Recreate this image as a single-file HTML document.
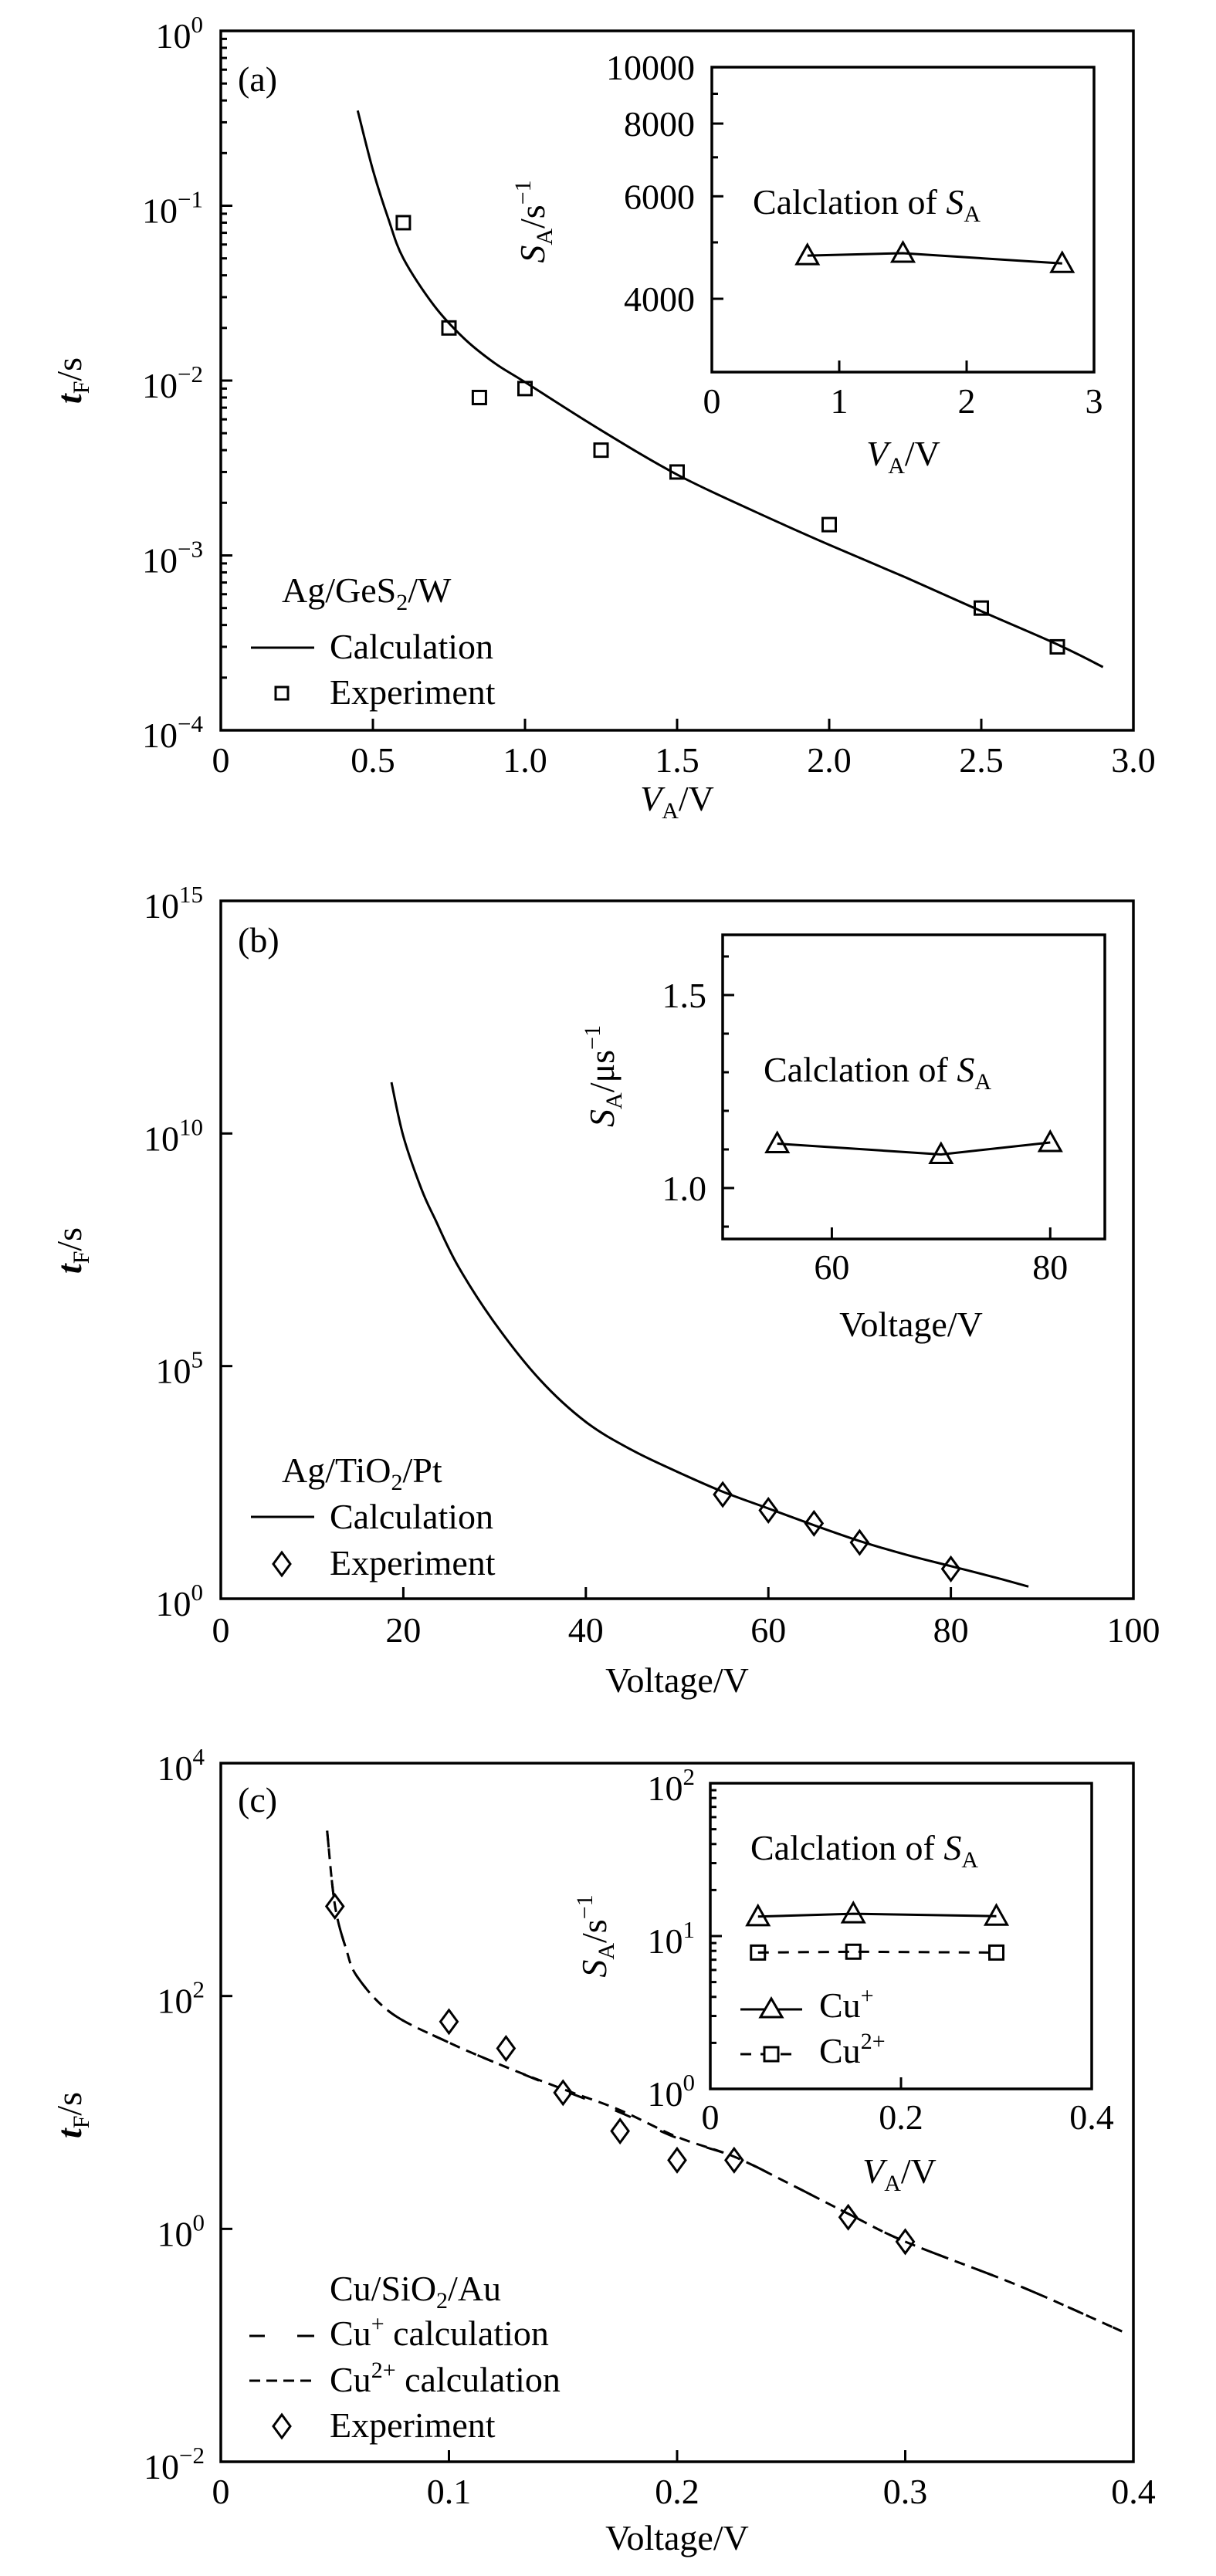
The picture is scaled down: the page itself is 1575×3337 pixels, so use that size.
<!DOCTYPE html>
<html><head><meta charset="utf-8"><style>
html,body{margin:0;padding:0;background:#fff}
svg{display:block}
text{font-family:"Liberation Serif",serif;fill:#000}
</style></head>
<body>
<svg id="fig" width="1575" height="3337" viewBox="0 0 1575 3337" xmlns="http://www.w3.org/2000/svg">
<rect x="0" y="0" width="1575" height="3337" fill="#fff"/>
<g font-size="46">
<text x="308" y="118">(a)</text>
<text transform="translate(105,493) rotate(-90)" text-anchor="middle"><tspan font-style="italic" font-weight="bold">t</tspan><tspan font-size="30" dy="10">F</tspan><tspan dy="-10">/s</tspan></text>
<text x="877" y="1050" text-anchor="middle"><tspan font-style="italic">V</tspan><tspan font-size="30" dy="10">A</tspan><tspan dy="-10">/V</tspan></text>
<text x="365" y="780">Ag/GeS<tspan font-size="30" dy="10">2</tspan><tspan dy="-10">/W</tspan></text>
<line x1="325" y1="839" x2="407" y2="839" stroke="#000" stroke-width="3"/>
<text x="427" y="853">Calculation</text>
<rect x="357" y="890" width="16" height="16" fill="none" stroke="#000" stroke-width="3"/>
<text x="427" y="912">Experiment</text>
<text x="975" y="277">Calclation of <tspan font-style="italic">S</tspan><tspan font-size="30" dy="10">A</tspan></text>
<text transform="translate(705,287) rotate(-90)" text-anchor="middle"><tspan font-style="italic">S</tspan><tspan font-size="30" dy="10">A</tspan><tspan dy="-10">/s</tspan><tspan font-size="30" dy="-18">−1</tspan></text>
<text x="1170" y="603" text-anchor="middle"><tspan font-style="italic">V</tspan><tspan font-size="30" dy="10">A</tspan><tspan dy="-10">/V</tspan></text>
</g>
<g font-size="46">
<text x="308" y="1233">(b)</text>
<text transform="translate(105,1620) rotate(-90)" text-anchor="middle"><tspan font-style="italic" font-weight="bold">t</tspan><tspan font-size="30" dy="10">F</tspan><tspan dy="-10">/s</tspan></text>
<text x="877" y="2192" text-anchor="middle">Voltage/V</text>
<text x="365" y="1920">Ag/TiO<tspan font-size="30" dy="10">2</tspan><tspan dy="-10">/Pt</tspan></text>
<line x1="325" y1="1965" x2="407" y2="1965" stroke="#000" stroke-width="3"/>
<text x="427" y="1980">Calculation</text>
<path d="M365,2011 L376,2026 L365,2041 L354,2026 Z" fill="none" stroke="#000" stroke-width="3"/>
<text x="427" y="2040">Experiment</text>
<text x="989" y="1401">Calclation of <tspan font-style="italic">S</tspan><tspan font-size="30" dy="10">A</tspan></text>
<text transform="translate(795,1394) rotate(-90)" text-anchor="middle"><tspan font-style="italic">S</tspan><tspan font-size="30" dy="10">A</tspan><tspan dy="-10">/μs</tspan><tspan font-size="30" dy="-18">−1</tspan></text>
<text x="1180" y="1731" text-anchor="middle">Voltage/V</text>
</g>
<g font-size="46">
<text x="308" y="2347">(c)</text>
<text transform="translate(105,2740) rotate(-90)" text-anchor="middle"><tspan font-style="italic" font-weight="bold">t</tspan><tspan font-size="30" dy="10">F</tspan><tspan dy="-10">/s</tspan></text>
<text x="877" y="3303" text-anchor="middle">Voltage/V</text>
<text x="427" y="2980">Cu/SiO<tspan font-size="30" dy="10">2</tspan><tspan dy="-10">/Au</tspan></text>
<line x1="323" y1="3026" x2="407" y2="3026" stroke="#000" stroke-width="3" stroke-dasharray="20 42 22"/>
<text x="427" y="3038">Cu<tspan font-size="30" dy="-18">+</tspan><tspan dy="18"> calculation</tspan></text>
<line x1="323" y1="3084" x2="407" y2="3084" stroke="#000" stroke-width="3" stroke-dasharray="14 8"/>
<text x="427" y="3098">Cu<tspan font-size="30" dy="-18">2+</tspan><tspan dy="18"> calculation</tspan></text>
<path d="M365,3128 L376,3143 L365,3158 L354,3143 Z" fill="none" stroke="#000" stroke-width="3"/>
<text x="427" y="3157">Experiment</text>
<text x="972" y="2409">Calclation of <tspan font-style="italic">S</tspan><tspan font-size="30" dy="10">A</tspan></text>
<text transform="translate(785,2508) rotate(-90)" text-anchor="middle"><tspan font-style="italic">S</tspan><tspan font-size="30" dy="10">A</tspan><tspan dy="-10">/s</tspan><tspan font-size="30" dy="-18">−1</tspan></text>
<text x="1165" y="2828" text-anchor="middle"><tspan font-style="italic">V</tspan><tspan font-size="30" dy="10">A</tspan><tspan dy="-10">/V</tspan></text>
<line x1="959" y1="2603" x2="1039" y2="2603" stroke="#000" stroke-width="3"/>
<path d="M999,2589 L1013,2613 L985,2613 Z" fill="#fff" stroke="#000" stroke-width="3"/>
<text x="1061" y="2613">Cu<tspan font-size="30" dy="-18">+</tspan></text>
<line x1="959" y1="2661" x2="1031" y2="2661" stroke="#000" stroke-width="3" stroke-dasharray="14 12"/>
<rect x="990" y="2652" width="18" height="18" fill="#fff" stroke="#000" stroke-width="3"/>
<text x="1061" y="2672">Cu<tspan font-size="30" dy="-18">2+</tspan></text>
</g>
<g id="marks"></g>
</svg>
<script>
// ---------- Panel (a) data ----------
const aCalcV = [0.45, 0.5, 0.55, 0.6, 0.7, 0.8, 0.9, 1.0, 1.25, 1.5, 1.75, 2.0, 2.25, 2.5, 2.75, 2.9];
const aCalcT = [0.35, 0.16, 0.085, 0.05, 0.027, 0.0174, 0.0126, 0.0098, 0.0052, 0.0029, 0.0018, 0.00115, 0.00075, 0.00048, 0.00031, 0.00023];
const aExpV = [0.6, 0.75, 0.85, 1.0, 1.25, 1.5, 2.0, 2.5, 2.75];
const aExpT = [0.08, 0.02, 0.008, 0.009, 0.004, 0.003, 0.0015, 0.0005, 0.0003];
const aXTicks = [0, 0.5, 1.0, 1.5, 2.0, 2.5, 3.0];
const aXTickLabels = ["0", "0.5", "1.0", "1.5", "2.0", "2.5", "3.0"];
const aYExp = [0, -1, -2, -3, -4];
const aInsetV = [0.75, 1.5, 2.75];
const aInsetS = [4745, 4790, 4600];
const aInsetYTicks = [4000, 6000, 8000, 10000];
const aInsetYMinor = [3000, 5000, 7000, 9000];
const aInsetXTicks = [0, 1, 2, 3];
// ---------- Panel (b) data ----------
const bCalcV = [18.7, 20, 22, 23.5, 26, 30, 35, 40, 45, 50, 55, 60, 65, 70, 75, 80, 85, 88.5];
const bCalcLog = [11.1, 9.94, 8.8, 8.15, 7.15, 5.93, 4.7, 3.8, 3.2, 2.73, 2.3, 1.94, 1.58, 1.24, 0.95, 0.7, 0.45, 0.26];
const bExpV = [55, 60, 65, 70, 80];
const bExpLog = [2.24, 1.9, 1.62, 1.21, 0.64];
const bXTicks = [0, 20, 40, 60, 80, 100];
const bYExp = [0, 5, 10, 15];
const bInsetV = [55, 70, 80];
const bInsetS = [1.115, 1.087, 1.118];
const bInsetYTicks = [1.0, 1.5];
const bInsetYMinor = [0.9, 1.1, 1.2, 1.3, 1.4, 1.6];
const bInsetXTicks = [60, 80];
// ---------- Panel (c) data ----------
const cCalcV = [0.0466, 0.05, 0.055, 0.06, 0.075, 0.1, 0.125, 0.15, 0.175, 0.2, 0.225, 0.25, 0.275, 0.3, 0.35, 0.395];
const cCu1Log = [3.42, 2.78, 2.4, 2.16, 1.85, 1.6, 1.39, 1.19, 1.0, 0.78, 0.62, 0.38, 0.13, -0.11, -0.49, -0.88];
const cCu2Log = [3.42, 2.78, 2.4, 2.16, 1.85, 1.6, 1.39, 1.2, 1.02, 0.79, 0.62, 0.38, 0.13, -0.11, -0.49, -0.88];
const cExpV = [0.05, 0.1, 0.125, 0.15, 0.175, 0.2, 0.225, 0.275, 0.3];
const cExpLog = [2.77, 1.78, 1.55, 1.17, 0.84, 0.59, 0.59, 0.10, -0.11];
const cXTicks = [0, 0.1, 0.2, 0.3, 0.4];
const cYExp = [4, 2, 0, -2];
const cInsetV = [0.05, 0.15, 0.3];
const cInsetCu1 = [13.4, 14.0, 13.5];
const cInsetCu2 = [7.8, 7.9, 7.8];
const cInsetXTicks = [0, 0.2, 0.4];
const cInsetXTickLabels = ["0", "0.2", "0.4"];
const cInsetYExp = [0, 1, 2];

const NS = "http://www.w3.org/2000/svg";
const root = document.getElementById("marks");
function mk(tag, parent) { const e = document.createElementNS(NS, tag); parent.appendChild(e); return e; }
function lin(d0, d1, r0, r1) { return v => r0 + (v - d0) / (d1 - d0) * (r1 - r0); }
function logS(d0, d1, r0, r1) { const f = lin(Math.log10(d0), Math.log10(d1), r0, r1); return v => f(Math.log10(v)); }

function box(x0, y0, x1, y1, name) {
  const r = mk("rect", root);
  
  
  r.setAttribute("x", x0); r.setAttribute("y", y0);
  r.setAttribute("width", x1 - x0); r.setAttribute("height", y1 - y0);
  r.setAttribute("fill", "none"); r.setAttribute("stroke", "#000"); r.setAttribute("stroke-width", "3.5");
}
function tickLine(x1, y1, x2, y2) {
  const l = mk("line", root);
  
  
  l.setAttribute("x1", x1); l.setAttribute("y1", y1); l.setAttribute("x2", x2); l.setAttribute("y2", y2);
  l.setAttribute("stroke", "#000"); l.setAttribute("stroke-width", "3");
}
function label(x, y, str, anchor, sup) {
  const t = mk("text", root);
  
  
  t.setAttribute("x", x); t.setAttribute("y", y);
  t.setAttribute("font-size", "46");
  t.setAttribute("text-anchor", anchor);
  t.appendChild(document.createTextNode(str));
  if (sup !== undefined) {
    const s = mk("tspan", t);
    s.setAttribute("font-size", "31");
    s.setAttribute("dy", "-20");
    s.textContent = sup;
  }
}
function smoothD(pts) {
  let d = "M" + pts[0][0].toFixed(1) + "," + pts[0][1].toFixed(1);
  for (let i = 0; i < pts.length - 1; i++) {
    const p0 = pts[i - 1] || pts[i], p1 = pts[i], p2 = pts[i + 1], p3 = pts[i + 2] || p2;
    const c1 = [p1[0] + (p2[0] - p0[0]) / 6, p1[1] + (p2[1] - p0[1]) / 6];
    const c2 = [p2[0] - (p3[0] - p1[0]) / 6, p2[1] - (p3[1] - p1[1]) / 6];
    d += " C" + c1.map(v => v.toFixed(1)).join(",") + " " + c2.map(v => v.toFixed(1)).join(",") + " " + p2[0].toFixed(1) + "," + p2[1].toFixed(1);
  }
  return d;
}
function path(pts, name, dash, smooth) {
  const p = mk("path", root);
  
  
  p.setAttribute("d", smooth ? smoothD(pts) : pts.map((q, i) => (i ? "L" : "M") + q[0].toFixed(1) + "," + q[1].toFixed(1)).join(" "));
  p.setAttribute("fill", "none"); p.setAttribute("stroke", "#000");
  p.setAttribute("stroke-width", 3);
  p.setAttribute("stroke-linejoin", "round");
  if (dash) p.setAttribute("stroke-dasharray", dash);
}
function square(x, y, name, s) {
  const r = mk("rect", root);
  
  
  r.setAttribute("x", x - s / 2); r.setAttribute("y", y - s / 2);
  r.setAttribute("width", s); r.setAttribute("height", s);
  r.setAttribute("fill", "none"); r.setAttribute("stroke", "#000"); r.setAttribute("stroke-width", "3");
}
function diamond(x, y, name) {
  const p = mk("path", root);
  
  
  p.setAttribute("d", `M${x},${y-15} L${x+11},${y} L${x},${y+15} L${x-11},${y} Z`);
  p.setAttribute("fill", "none"); p.setAttribute("stroke", "#000"); p.setAttribute("stroke-width", "3");
}
function triangle(x, y, name) {
  const p = mk("path", root);
  
  
  p.setAttribute("d", `M${x},${y-14} L${x+14},${y+11} L${x-14},${y+11} Z`);
  p.setAttribute("fill", "none"); p.setAttribute("stroke", "#000"); p.setAttribute("stroke-width", "3");
}
function expLabel(e) { return e < 0 ? "−" + (-e) : String(e); }

// ================= Panel (a) =================
(function () {
  const X0 = 286, X1 = 1468, Y0 = 40, Y1 = 946;
  const xs = lin(0, 3, X0, X1), ys = logS(1, 1e-4, Y0, Y1);
  box(X0, Y0, X1, Y1, "panel-a-plot-frame");
  aXTicks.forEach((v, i) => { tickLine(xs(v), Y1, xs(v), Y1 - 15); label(xs(v), Y1 + 54, aXTickLabels[i], "middle"); });
  aYExp.forEach(e => {
    const y = ys(Math.pow(10, e));
    tickLine(X0, y, X0 + 15, y);
    label(263, y + 22, "10", "end", expLabel(e));
  });
  for (let e = -4; e < 0; e++) for (let m = 2; m <= 9; m++) {
    const y = ys(m * Math.pow(10, e)); tickLine(X0, y, X0 + 8, y);
  }
  path(aCalcV.map((v, i) => [xs(v), ys(aCalcT[i])]), "panel-a-calculation-curve", null, true);
  aExpV.forEach((v, i) => square(xs(v), ys(aExpT[i]), "panel-a-experiment-point", 17));
  const I0 = 922, I1 = 1417, J0 = 87, J1 = 482;
  const ix = lin(0, 3, I0, I1), iy = logS(10000, 10000 * Math.pow(10, -(J1 - J0) / 754), J0, J1);
  box(I0, J0, I1, J1, "inset-a-frame");
  aInsetXTicks.forEach(v => { if (v > 0 && v < 3) tickLine(ix(v), J1, ix(v), J1 - 15); label(ix(v), 535, String(v), "middle"); });
  aInsetYTicks.forEach(v => { tickLine(I0, iy(v), I0 + 15, iy(v)); label(900, iy(v) + 16, String(v), "end"); });
  aInsetYMinor.forEach(v => { if (iy(v) < J1 - 2) tickLine(I0, iy(v), I0 + 8, iy(v)); });
  path(aInsetV.map((v, i) => [ix(v), iy(aInsetS[i])]), "inset-a-line");
  aInsetV.forEach((v, i) => triangle(ix(v), iy(aInsetS[i]), "inset-a-point"));
})();

// ================= Panel (b) =================
(function () {
  const X0 = 286, X1 = 1468, Y0 = 1167, Y1 = 2071;
  const xs = lin(0, 100, X0, X1), ys = lin(0, 15, Y1, Y0);
  box(X0, Y0, X1, Y1, "panel-b-plot-frame");
  bXTicks.forEach(v => { tickLine(xs(v), Y1, xs(v), Y1 - 15); label(xs(v), Y1 + 56, String(v), "middle"); });
  bYExp.forEach(e => {
    tickLine(X0, ys(e), X0 + 15, ys(e));
    label(263, ys(e) + 22, "10", "end", expLabel(e));
  });
  path(bCalcV.map((v, i) => [xs(v), ys(bCalcLog[i])]), "panel-b-calculation-curve", null, true);
  bExpV.forEach((v, i) => diamond(xs(v), ys(bExpLog[i]), "panel-b-experiment-point"));
  const I0 = 936, I1 = 1431, J0 = 1211, J1 = 1605;
  const ix = lin(50, 85, I0, I1), iy = lin(1.0, 1.5, 1539, 1289);
  box(I0, J0, I1, J1, "inset-b-frame");
  bInsetXTicks.forEach(v => { tickLine(ix(v), J1, ix(v), J1 - 15); label(ix(v), 1657, String(v), "middle"); });
  bInsetYTicks.forEach(v => { tickLine(I0, iy(v), I0 + 15, iy(v)); label(915, iy(v) + 16, v.toFixed(1), "end"); });
  bInsetYMinor.forEach(v => tickLine(I0, iy(v), I0 + 8, iy(v)));
  path(bInsetV.map((v, i) => [ix(v), iy(bInsetS[i])]), "inset-b-line");
  bInsetV.forEach((v, i) => triangle(ix(v), iy(bInsetS[i]), "inset-b-point"));
})();

// ================= Panel (c) =================
(function () {
  const X0 = 286, X1 = 1468, Y0 = 2284, Y1 = 3189;
  const xs = lin(0, 0.4, X0, X1), ys = lin(-2, 4, Y1, Y0);
  box(X0, Y0, X1, Y1, "panel-c-plot-frame");
  cXTicks.forEach(v => { tickLine(xs(v), Y1, xs(v), Y1 - 15); label(xs(v), 3243, v === 0 ? "0" : v.toFixed(1), "middle"); });
  cYExp.forEach(e => {
    tickLine(X0, ys(e), X0 + 15, ys(e));
    label(265, ys(e) + 22, "10", "end", expLabel(e));
  });
  path(cCalcV.map((v, i) => [xs(v), ys(cCu1Log[i])]), "panel-c-cu1-curve", "22 42", true);
  path(cCalcV.map((v, i) => [xs(v), ys(cCu2Log[i])]), "panel-c-cu2-curve", "14 9", true);
  cExpV.forEach((v, i) => diamond(xs(v), ys(cExpLog[i]), "panel-c-experiment-point"));
  const I0 = 920, I1 = 1414, J0 = 2310, J1 = 2706;
  const ix = lin(0, 0.4, I0, I1), iy = lin(0, 2, J1, J0);
  box(I0, J0, I1, J1, "inset-c-frame");
  cInsetXTicks.forEach((v, i) => { if (v > 0 && v < 0.4) tickLine(ix(v), J1, ix(v), J1 - 15); label(ix(v), 2758, cInsetXTickLabels[i], "middle"); });
  cInsetYExp.forEach(e => {
    if (e > 0 && e < 2) tickLine(I0, iy(e), I0 + 15, iy(e));
    label(900, iy(e) + 22, "10", "end", String(e));
  });
  for (let e = 0; e < 2; e++) for (let m = 2; m <= 9; m++) {
    const y = iy(e + Math.log10(m)); tickLine(I0, y, I0 + 8, y);
  }
  path(cInsetV.map((v, i) => [ix(v), iy(Math.log10(cInsetCu1[i]))]), "inset-c-cu1-line");
  path(cInsetV.map((v, i) => [ix(v), iy(Math.log10(cInsetCu2[i]))]), "inset-c-cu2-line", "14 12");
  cInsetV.forEach((v, i) => triangle(ix(v), iy(Math.log10(cInsetCu1[i])), "inset-c-cu1-point"));
  cInsetV.forEach((v, i) => square(ix(v), iy(Math.log10(cInsetCu2[i])), "inset-c-cu2-point", 18));
})();
</script>
</body></html>
